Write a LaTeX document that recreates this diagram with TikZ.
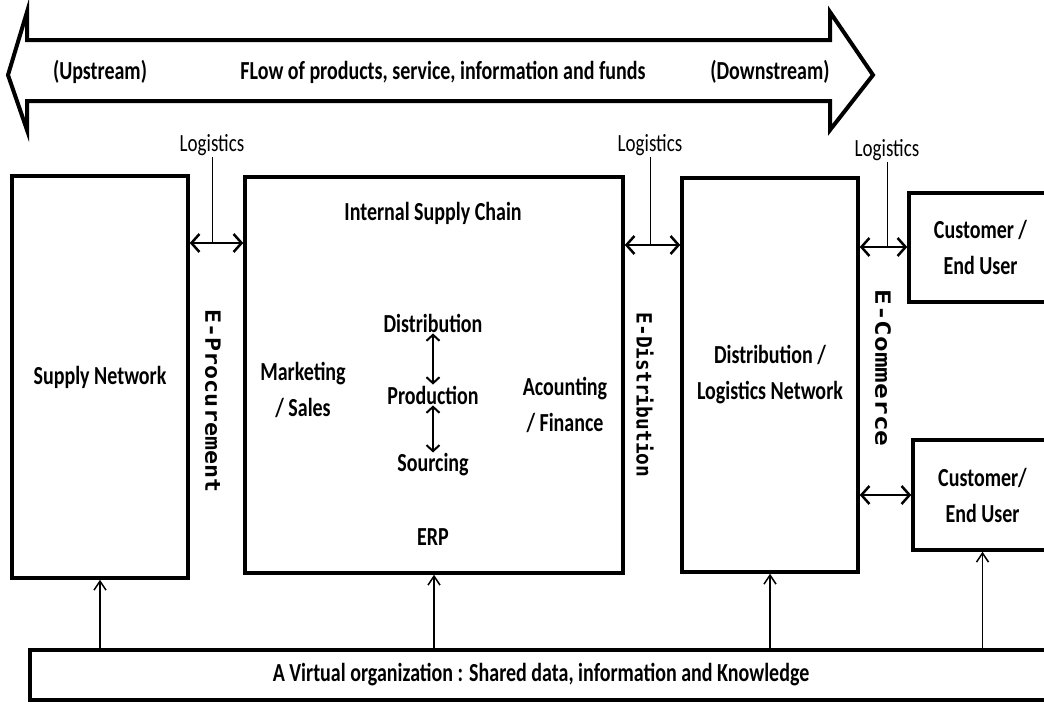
\documentclass[tikz,border=0pt]{standalone}
\usepackage{fontspec}
\setmainfont{Carlito}
\newfontfamily\monofont{DejaVu Sans Mono}
\usetikzlibrary{arrows.meta}
\usetikzlibrary{calc}
\newcommand{\tall}[1]{\scalebox{1}[1.3]{#1}}

\begin{document}
\begin{tikzpicture}[x=1pt, y=-1pt,
    txt/.style={font=\bfseries\fontsize{20}{36}\selectfont, inner sep=1pt, align=center},
    lgtxt/.style={font=\fontsize{19}{22}\selectfont, inner sep=1pt},
    box/.style={draw, line width=3.5pt, txt},
    vtxt/.style={font=\monofont\bfseries\fontsize{21}{22}\selectfont, rotate=-90, inner sep=0pt},
    dbl/.style={line width=2.5pt, {Straight Barb[length=8pt,width=18pt]}-{Straight Barb[length=8pt,width=18pt]}},
    dblsmall/.style={line width=2pt, {Straight Barb[length=6pt,width=13pt]}-{Straight Barb[length=6pt,width=13pt]}},
    upar/.style={line width=1.5pt, -{Straight Barb[length=9pt,width=12pt]}},
    tie/.style={line width=1pt}]

  \useasboundingbox (0,0) rectangle (1044,704);

  % the flow arrow on top
  \draw [line width=4pt, line join=miter] (8,75) -- (27,12) -- (27,40) -- (830,40) -- (830,12) -- (873,75)
    -- (830,130) -- (830,101) -- (27,101) -- (27,130) -- cycle;
  \node [txt] (upstr) at (100,72) {\tall{(Upstream)}};
  \node [txt] (flow) at (443,72) {\tall{FLow of products, service, information and funds}};
  \node [txt] (downstr) at (770,72) {\tall{(Downstream)}};

  % the boxes
  \node [box, minimum width=176pt, minimum height=402pt] (supply) at (100,377) {\tall{Supply Network}};
  \node [box, minimum width=378pt, minimum height=396pt] (isc) at (434,375) {};
  \node [box, minimum width=176pt, minimum height=394pt] (dln) at (770,375) {\tall{Distribution /}\\\tall{Logistics Network}};
  \node [box, minimum width=143pt, minimum height=109pt] (cust1) at (980.5,247.5) {\tall{Customer /}\\\tall{End User}};
  \node [box, minimum width=139pt, minimum height=110pt] (cust2) at (982.5,495) {\tall{Customer/}\\\tall{End User}};
  \node [box, minimum width=1022pt, minimum height=50pt] (vorg) at (541,675)
    {\tall{A Virtual organization : Shared data, information and Knowledge}};

  % inside the internal supply chain
  \node [txt] (isclbl) at (433,213) {\tall{Internal Supply Chain}};
  \node [txt] (dist) at (433,323) {\tall{Distribution}};
  \node [txt] (prod) at (433,395) {\tall{Production}};
  \node [txt] (src) at (433,465) {\tall{Sourcing}};
  \node [txt] (erp) at (433,537) {\tall{ERP}};
  \node [txt] (mkt) at (303,390) {\tall{Marketing}\\\tall{/ Sales}};
  \node [txt] (acc) at (565,405) {\tall{Acounting}\\\tall{/ Finance}};
  \draw [dblsmall] (dist) -- (prod);
  \draw [dblsmall] (prod) -- (src);

  % logistics links
  \node [lgtxt] (lg1) at (212,145) {\tall{Logistics}};
  \node [lgtxt] (lg2) at (650,145) {\tall{Logistics}};
  \node [lgtxt] (lg3) at (887,150) {\tall{Logistics}};
  \coordinate (j1) at (212,243);
  \coordinate (j2) at (650,245);
  \coordinate (j3) at (887,247);
  \draw [tie] (lg1) -- (j1);
  \draw [tie] (lg2) -- (j2);
  \draw [tie] (lg3) -- (j3);
  \draw [dbl] (supply.east |- j1) -- (isc.west |- j1);
  \draw [dbl] (isc.east |- j2) -- (dln.west |- j2);
  \draw [dbl] (dln.east |- j3) -- (cust1.west |- j3);
  \draw [dbl] (dln.east |- cust2.west) -- (cust2.west);

  % the e-channels
  \node [vtxt] (eproc) at (213,401) {\scalebox{1.11}[1]{E-Procurement}};
  \node [vtxt] (edist) at (645,395) {\scalebox{0.93}[1]{E-Distribution}};
  \node [vtxt] (ecomm) at (883,368) {\scalebox{1.24}[1]{E-Commerce}};

  % shared data feeds every part
  \draw [upar] (supply.south |- vorg.north) -- (supply.south);
  \draw [upar] (isc.south |- vorg.north) -- (isc.south);
  \draw [upar] (dln.south |- vorg.north) -- (dln.south);
  \draw [upar] (cust2.south |- vorg.north) -- (cust2.south);
\end{tikzpicture}
\end{document}
